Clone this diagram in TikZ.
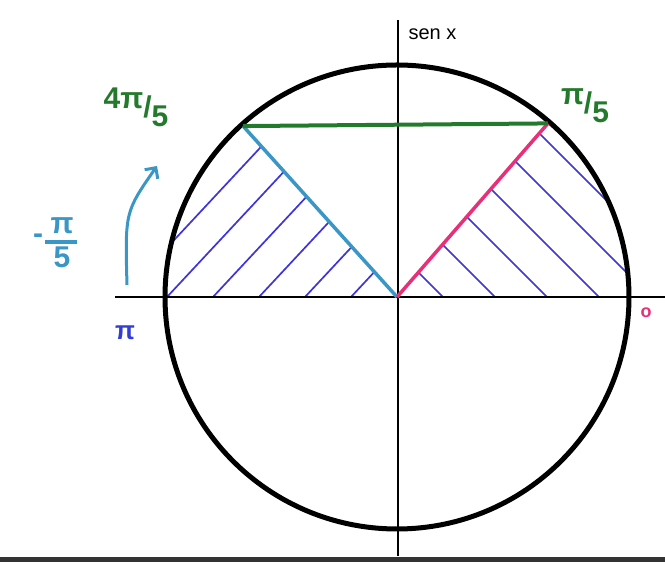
\documentclass[tikz,border=0pt]{standalone}
\usepackage{fontspec}
\setmainfont{Liberation Sans}
\usetikzlibrary{arrows.meta,calc}
\definecolor{chordgreen}{RGB}{36,122,44}
\definecolor{rayteal}{RGB}{58,150,196}
\definecolor{raypink}{RGB}{232,48,120}
\definecolor{hatchblue}{RGB}{62,52,222}
\definecolor{pilblue}{RGB}{50,62,210}
\tikzset{
  hatch/.style={draw=hatchblue,line width=1.7pt},
  lbl/.style={inner sep=1pt,font=\fontsize{30}{30}\selectfont\bfseries}
}
\begin{document}
\begin{tikzpicture}[x=1pt,y=1pt]
            \useasboundingbox (0,0) rectangle (665,562);
            \fill[black!80] (0,0) rectangle (665,5);

            \coordinate (O) at (397,265);
            \coordinate (P) at ($(O)+(49:230)$);
            \coordinate (Q) at ($(O)+(132:230)$);

            % hatching of the two sectors
            \begin{scope}
              \clip (O) -- ++(132:232) arc (132:180:232) -- cycle;
              \foreach \x in {121,167,213,259,305,351}
                \draw[hatch] (\x,265) -- ++(47:320);
            \end{scope}
            \begin{scope}
              \clip (O) -- ++(0:232) arc (0:49:232) -- cycle;
              \foreach \x in {443,495,547,599,651,703}
                \draw[hatch] (\x,265) -- ++(135:320);
            \end{scope}

            % axes
            \draw[line width=2pt] (115,265) -- (665,265);
            \draw[line width=2pt] (398,6) -- (398,542);
            \node[anchor=west,font=\fontsize{20}{20}\selectfont] (sen) at (405,528) {sen x};

            % unit circle
            \draw[line width=5pt] (O) circle (232);

            \draw[rayteal,line width=3.5pt] (O) -- (Q);
            \draw[raypink,line width=3.5pt] (O) -- (P);
            \draw[chordgreen,line width=4pt] (Q) -- (P);

            \node[lbl,text=chordgreen] (fourfifth) at (136,455) {4π\raisebox{-0.3em}{/\raisebox{-0.3em}{5}}};
            \node[lbl,text=chordgreen] (onefifth) at (585,456) {π\raisebox{-0.3em}{/\raisebox{-0.3em}{5}}};
            \node[lbl,text=rayteal,align=center] (fifth) at (62,319) {π\\[4pt]5};
            \draw[rayteal,line width=3.5pt] ([xshift=-4pt,yshift=1pt]fifth.west) -- ([xshift=2pt,yshift=1pt]fifth.east);
            \node[lbl,text=rayteal,anchor=east] (minus) at ([xshift=-5pt,yshift=4pt]fifth.west) {-};
            \node[lbl,text=pilblue,font=\fontsize{26}{26}\selectfont\bfseries] (pi) at (125,229) {π};
            \node[lbl,text=raypink,font=\fontsize{18}{18}\selectfont\bfseries] (zero) at (646,249) {o};

            % turning arrow
            \coordinate (a1) at (127,277);
            \coordinate (a2) at (157,396);
            \draw[rayteal,line width=3pt,-{Straight Barb[length=8pt,width=16pt]}] (a1) .. controls (125,350) .. (a2);
        \end{tikzpicture}
\end{document}
